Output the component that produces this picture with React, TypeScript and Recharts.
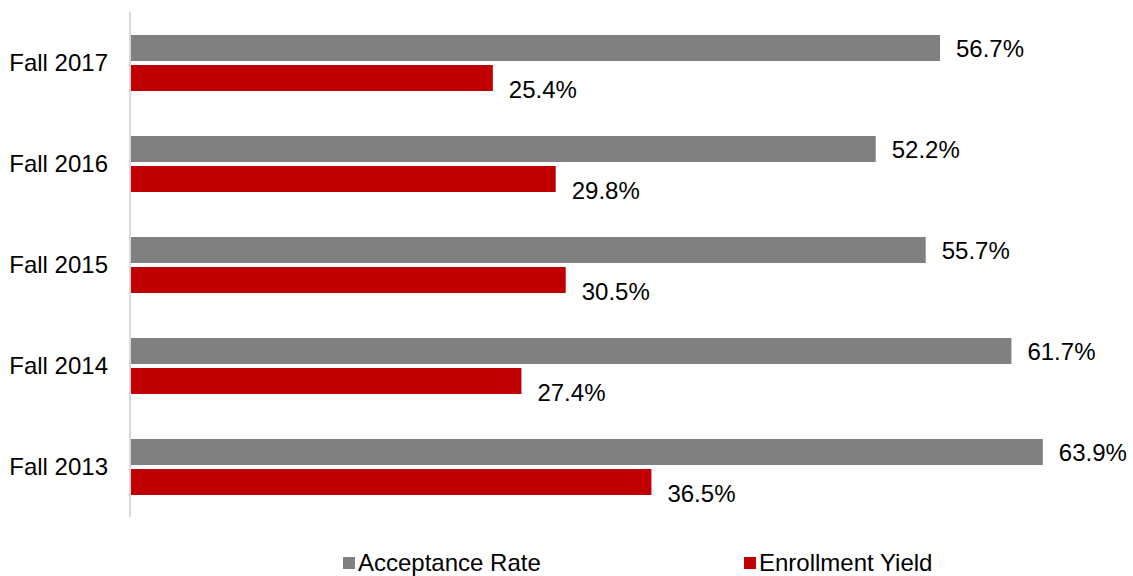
import { BarChart, Bar, XAxis, YAxis, LabelList, Legend } from 'recharts';

const periods = ['Fall 2017', 'Fall 2016', 'Fall 2015', 'Fall 2014', 'Fall 2013'];
const acceptanceRate = [56.7, 52.2, 55.7, 61.7, 63.9];
const enrollmentYield = [25.4, 29.8, 30.5, 27.4, 36.5];

const series = [
  { key: 'acceptance', name: 'Acceptance Rate', color: '#808080', labelDy: 0 },
  { key: 'yield', name: 'Enrollment Yield', color: '#C00000', labelDy: 11 },
];

const data = periods.map((period, i) => ({
  period,
  acceptance: acceptanceRate[i],
  yield: enrollmentYield[i],
}));

const FONT = '"Liberation Sans", Arial, sans-serif';

const makeLabel = (dy: number) => (props: any) => {
  const { x, y, width, height, value } = props;
  return (
    <text
      x={x + width + 16}
      y={y + height / 2 + dy}
      dominantBaseline="central"
      fontSize={24}
      fontFamily={FONT}
      fill="#000"
    >
      {value.toFixed(1)}%
    </text>
  );
};

const renderLegend = () => (
  <div style={{ position: 'relative', height: 30, fontFamily: FONT, fontSize: 24, color: '#000' }}>
    {series.map((s, i) => (
      <div
        key={s.key}
        style={{ position: 'absolute', left: i === 0 ? 343 : 744, top: 0, display: 'flex', alignItems: 'center', height: 30 }}
      >
        <span style={{ display: 'inline-block', width: 12, height: 12, background: s.color, marginRight: 3 }} />
        <span>{s.name}</span>
      </div>
    ))}
  </div>
);

export default function App() {
  return (
    <div style={{ position: 'absolute', left: 0, top: 0, width: 1133, height: 576, background: '#fff' }}>
      <BarChart
        width={1133}
        height={576}
        data={data}
        layout="vertical"
        margin={{ top: 12, right: 3, bottom: 29, left: 0 }}
        barSize={26}
        barGap={4}
      >
        <XAxis type="number" domain={[0, 70]} hide />
        <YAxis
          type="category"
          dataKey="period"
          width={130}
          axisLine={{ stroke: '#d9d9d9', strokeWidth: 2 }}
          tickLine={false}
          tickSize={0}
          tickMargin={22}
          tick={{ fontSize: 24, fill: '#000', fontFamily: FONT }}
        />
        <Legend
          verticalAlign="bottom"
          content={renderLegend}
          wrapperStyle={{ left: 0, top: 548, width: 1133 }}
        />
        {series.map((s) => (
          <Bar key={s.key} dataKey={s.key} name={s.name} fill={s.color} isAnimationActive={false}>
            <LabelList dataKey={s.key} content={makeLabel(s.labelDy)} />
          </Bar>
        ))}
      </BarChart>
    </div>
  );
}
